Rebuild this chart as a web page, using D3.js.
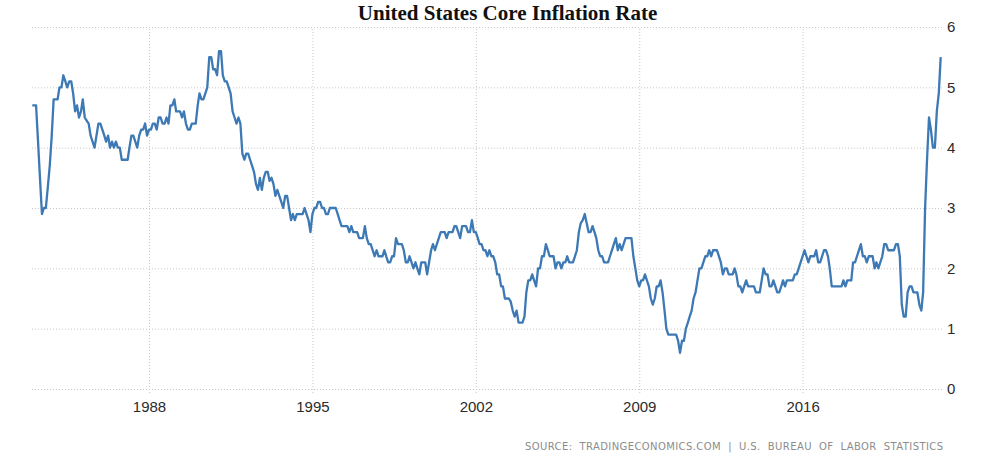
<!DOCTYPE html>
<html>
<head>
<meta charset="utf-8">
<script src="https://cdn.jsdelivr.net/npm/d3@7"></script>
<style>
  html, body { margin: 0; padding: 0; background: #fff; }
  svg { display: block; }
</style>
</head>
<body>
<svg id="chart" width="1004" height="467"></svg>
<script>
// ---- data (monthly, Jan 1983 .. Dec 2021), core CPI YoY % ----
const startYear = 1983;
const values1983_1992 = [
  4.7, 4.7, 4.7, 4.1, 3.5, 2.9, 3.0, 3.0, 3.35, 3.7, 4.2, 4.8,
  4.8, 4.8, 5.0, 5.0, 5.2, 5.1, 5.0, 5.1, 5.1, 4.9, 4.6, 4.7,
  4.5, 4.6, 4.8, 4.5, 4.45, 4.4, 4.2, 4.1, 4.0, 4.2, 4.4, 4.4,
  4.3, 4.2, 4.1, 4.2, 4.0, 4.1, 4.0, 4.1, 4.0, 4.0, 3.8, 3.8,
  3.8, 3.8, 4.0, 4.2, 4.2, 4.1, 4.0, 4.2, 4.3, 4.3, 4.4, 4.2,
  4.3, 4.3, 4.4, 4.4, 4.3, 4.5, 4.5, 4.4, 4.4, 4.5, 4.4, 4.7,
  4.7, 4.8, 4.6, 4.6, 4.6, 4.5, 4.6, 4.4, 4.3, 4.3, 4.4, 4.4,
  4.4, 4.7, 4.9, 4.8, 4.8, 4.9, 5.0, 5.5, 5.5, 5.3, 5.3, 5.2,
  5.6, 5.6, 5.2, 5.1, 5.1, 5.0, 4.9, 4.6, 4.5, 4.4, 4.5, 4.4,
  3.9, 3.8, 3.9, 3.9, 3.8, 3.7, 3.6, 3.4, 3.3, 3.5, 3.3, 3.5
];
const values1993_2002 = [
  3.6, 3.6, 3.45, 3.5, 3.4, 3.2, 3.3, 3.2, 3.1, 3.0, 3.2, 3.2,
  3.0, 2.8, 2.9, 2.8, 2.9, 2.9, 2.9, 2.9, 3.0, 2.9, 2.8, 2.6,
  2.9, 3.0, 3.0, 3.1, 3.1, 3.0, 3.0, 2.9, 2.9, 3.0, 3.0, 3.0,
  3.0, 2.9, 2.8, 2.7, 2.7, 2.7, 2.7, 2.6, 2.7, 2.6, 2.6, 2.6,
  2.5, 2.5, 2.5, 2.7, 2.5, 2.4, 2.4, 2.3, 2.2, 2.3, 2.2, 2.2,
  2.2, 2.3, 2.2, 2.1, 2.1, 2.2, 2.2, 2.5, 2.4, 2.4, 2.4, 2.3,
  2.1, 2.1, 2.2, 2.1, 2.0, 2.1, 2.0, 1.9, 2.1, 2.1, 2.1, 1.9,
  2.1, 2.3, 2.4, 2.3, 2.4, 2.5, 2.6, 2.6, 2.6, 2.5, 2.6, 2.6,
  2.6, 2.7, 2.7, 2.6, 2.5, 2.7, 2.7, 2.7, 2.6, 2.6, 2.8, 2.6,
  2.6, 2.5, 2.4, 2.4, 2.3, 2.3, 2.2, 2.3, 2.2, 2.2, 2.1, 1.9
];
const values2003_2012 = [
  1.9, 1.7, 1.7, 1.5, 1.5, 1.5, 1.45, 1.3, 1.2, 1.3, 1.1, 1.1,
  1.1, 1.2, 1.6, 1.8, 1.8, 1.9, 1.8, 1.7, 2.0, 2.0, 2.2, 2.2,
  2.4, 2.3, 2.2, 2.2, 2.2, 2.0, 2.1, 2.1, 2.0, 2.1, 2.1, 2.2,
  2.1, 2.1, 2.1, 2.2, 2.3, 2.6, 2.75, 2.8, 2.9, 2.75, 2.6, 2.6,
  2.7, 2.6, 2.5, 2.3, 2.2, 2.2, 2.1, 2.1, 2.1, 2.2, 2.3, 2.4,
  2.5, 2.3, 2.4, 2.3, 2.4, 2.5, 2.5, 2.5, 2.5, 2.2, 2.0, 1.8,
  1.7, 1.8, 1.8, 1.9, 1.8, 1.7, 1.5, 1.4, 1.5, 1.7, 1.7, 1.8,
  1.6, 1.3, 1.0, 0.9, 0.9, 0.9, 0.9, 0.9, 0.8, 0.6, 0.8, 0.8,
  1.0, 1.1, 1.2, 1.3, 1.5, 1.6, 1.8, 2.0, 2.0, 2.1, 2.2, 2.2,
  2.3, 2.2, 2.3, 2.3, 2.3, 2.2, 2.1, 1.9, 2.0, 2.0, 1.9, 1.9
];
const values2013_2021 = [
  1.9, 2.0, 1.9, 1.7, 1.7, 1.6, 1.7, 1.8, 1.7, 1.7, 1.7, 1.7,
  1.6, 1.6, 1.6, 1.8, 2.0, 1.9, 1.9, 1.7, 1.7, 1.8, 1.7, 1.6,
  1.6, 1.7, 1.8, 1.7, 1.8, 1.8, 1.8, 1.8, 1.9, 1.9, 2.0, 2.1,
  2.2, 2.3, 2.2, 2.1, 2.2, 2.2, 2.2, 2.3, 2.1, 2.1, 2.2, 2.3,
  2.3, 2.2, 2.0, 1.7, 1.7, 1.7, 1.7, 1.7, 1.7, 1.8, 1.7, 1.8,
  1.8, 1.8, 2.1, 2.1, 2.2, 2.3, 2.4, 2.2, 2.2, 2.1, 2.2, 2.2,
  2.2, 2.0, 2.1, 2.0, 2.1, 2.2, 2.4, 2.4, 2.3, 2.3, 2.3, 2.3,
  2.4, 2.4, 2.2, 1.4, 1.2, 1.2, 1.6, 1.7, 1.7, 1.6, 1.6, 1.6,
  1.4, 1.3, 1.6, 3.0, 3.8, 4.5, 4.3, 4.0, 4.0, 4.6, 4.9, 5.5
];
const xTickYears = [1988, 1995, 2002, 2009, 2016];
const yTicks = [0, 1, 2, 3, 4, 5, 6];
const titleText = "United States Core Inflation Rate";
const sourceText = "SOURCE:  TRADINGECONOMICS.COM  |  U.S.  BUREAU  OF  LABOR  STATISTICS";

const allValues = [].concat(values1983_1992, values1993_2002, values2003_2012, values2013_2021);
const data = allValues.map((v, i) => ({ date: new Date(startYear, i, 1), value: v }));

// ---- layout ----
const svg = d3.select("#chart");
const plotLeft = 30, plotRight = 942, plotTop = 27, plotBottom = 389;

const x = d3.scaleTime()
  .domain([new Date(1983, 0, 1), new Date(2021, 11, 1)])
  .range([32.3, 940.7]);
const y = d3.scaleLinear().domain([0, 6]).range([plotBottom, plotTop]);

// horizontal grid + right labels
const yAxis = d3.axisRight(y)
  .tickValues(yTicks)
  .tickFormat(d3.format("d"))
  .tickSize(-(plotRight - plotLeft))
  .tickPadding(5);
const gy = svg.append("g").attr("transform", `translate(${plotRight},0)`).call(yAxis);
gy.select(".domain").remove();
gy.selectAll(".tick line")
  .attr("stroke", "#c8c8c8").attr("stroke-dasharray", "1,2");
gy.selectAll(".tick text")
  .attr("fill", "#2b2b2b").style("font-family", "'Liberation Sans', Arial, sans-serif")
  .style("font-size", "15px");

// vertical grid + bottom labels
const xAxis = d3.axisBottom(x)
  .tickValues(xTickYears.map(yr => new Date(yr, 0, 1)))
  .tickFormat(d3.timeFormat("%Y"))
  .tickSize(-(393 - plotTop))
  .tickPadding(8);
const gx = svg.append("g").attr("transform", `translate(0,393)`).call(xAxis);
gx.select(".domain").remove();
gx.selectAll(".tick line")
  .attr("stroke", "#c8c8c8").attr("stroke-dasharray", "1,2");
gx.selectAll(".tick text")
  .attr("fill", "#2b2b2b").style("font-family", "'Liberation Sans', Arial, sans-serif")
  .style("font-size", "15px");

// line
const line = d3.line().x(d => x(d.date)).y(d => y(d.value));
svg.append("path")
  .datum(data)
  .attr("d", line)
  .attr("fill", "none")
  .attr("stroke", "#3d79b4")
  .attr("stroke-width", 2.3)
  .attr("stroke-linejoin", "round");

// title
svg.append("text")
  .attr("x", 507.5).attr("y", 20)
  .attr("text-anchor", "middle")
  .style("font-family", "'Liberation Serif', 'Times New Roman', serif")
  .style("font-weight", "bold")
  .style("font-size", "21px")
  .attr("fill", "#111")
  .text(titleText);

// source
svg.append("text")
  .attr("x", 943).attr("y", 450)
  .attr("text-anchor", "end")
  .attr("textLength", 418)
  .attr("lengthAdjust", "spacing")
  .style("white-space", "pre")
  .style("font-family", "'DejaVu Sans', Verdana, sans-serif")
  .style("font-size", "10px")
  .attr("fill", "#8c8c8c")
  .text(sourceText);
</script>
</body>
</html>
